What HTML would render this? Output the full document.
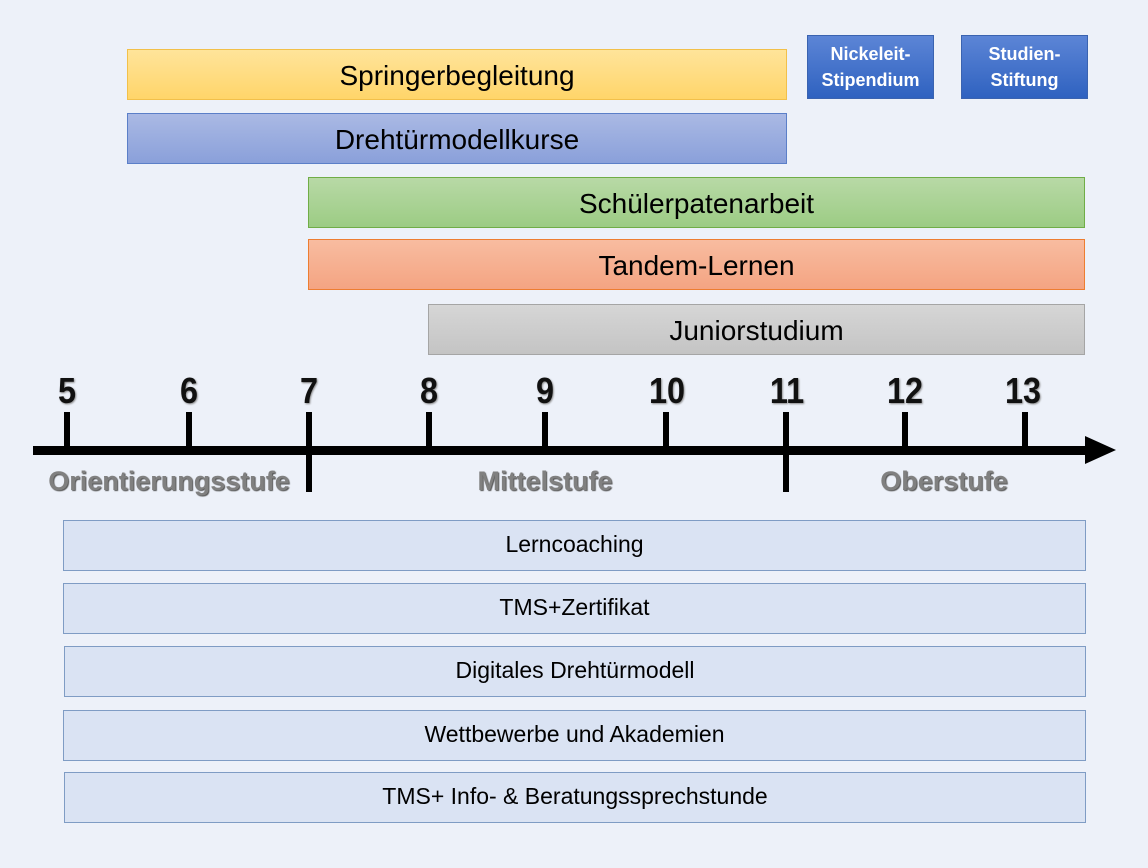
<!DOCTYPE html>
<html><head><meta charset="utf-8"><style>
body{margin:0;width:1148px;height:868px;background:#edf1f9;position:relative;overflow:hidden;font-family:"Liberation Sans",sans-serif}
.b{position:absolute;box-sizing:border-box;display:flex;align-items:center;justify-content:center;color:#000;text-align:center}
.top{font-size:28px;padding-top:2px}
.bot{font-size:23px;background:#dae3f3;border:1px solid #7f9cc4;padding-bottom:3px}
.n{position:absolute;font-weight:bold;font-size:36px;font-family:"Liberation Sans Narrow","Liberation Sans",sans-serif;transform:translateX(-50%) scaleX(0.9);top:370px;color:#111;text-shadow:1px 1px 2px #888}
.t{position:absolute;width:6px;background:#000}
.s{position:absolute;top:466px;font-weight:bold;font-size:27px;color:#808080;font-family:"Liberation Sans Narrow","Liberation Sans",sans-serif;transform:translateX(-50%);text-shadow:1px 1px 1px #555;white-space:nowrap}
.blue{background:linear-gradient(#5c85d6,#2f62c0);color:#fff;font-weight:bold;font-size:18px;line-height:26px;border:1px solid #3a63b0}
</style></head><body>
<div class="b top" style="left:127px;top:49px;width:660px;height:51px;background:linear-gradient(#ffe49a,#ffd56a);border:1px solid #f2c04a">Springerbegleitung</div>
<div class="b top" style="left:127px;top:113px;width:660px;height:51px;background:linear-gradient(#aab9e4,#8aa0da);border:1px solid #5b7fc8">Drehtürmodellkurse</div>
<div class="b top" style="left:308px;top:177px;width:777px;height:51px;background:linear-gradient(#b8d9a6,#9ccc84);border:1px solid #70ad47">Schülerpatenarbeit</div>
<div class="b top" style="left:308px;top:239px;width:777px;height:51px;background:linear-gradient(#f8bca0,#f4a482);border:1px solid #ed7d31">Tandem-Lernen</div>
<div class="b top" style="left:428px;top:304px;width:657px;height:51px;background:linear-gradient(#d6d6d6,#c4c4c4);border:1px solid #a5a5a5">Juniorstudium</div>
<div class="b blue" style="left:807px;top:35px;width:127px;height:64px">Nickeleit-<br>Stipendium</div>
<div class="b blue" style="left:961px;top:35px;width:127px;height:64px">Studien-<br>Stiftung</div>

<div style="position:absolute;left:33px;top:446px;width:1062px;height:9px;background:#000"></div>
<div style="position:absolute;left:1085px;top:436px;width:0;height:0;border-left:31px solid #000;border-top:14px solid transparent;border-bottom:14px solid transparent"></div>
<div class="t" style="left:64px;top:412px;height:36px"></div>
<div class="t" style="left:186px;top:412px;height:36px"></div>
<div class="t" style="left:306px;top:412px;height:80px"></div>
<div class="t" style="left:426px;top:412px;height:36px"></div>
<div class="t" style="left:542px;top:412px;height:36px"></div>
<div class="t" style="left:663px;top:412px;height:36px"></div>
<div class="t" style="left:783px;top:412px;height:80px"></div>
<div class="t" style="left:902px;top:412px;height:36px"></div>
<div class="t" style="left:1022px;top:412px;height:36px"></div>
<div class="n" style="left:67px">5</div>
<div class="n" style="left:189px">6</div>
<div class="n" style="left:309px">7</div>
<div class="n" style="left:429px">8</div>
<div class="n" style="left:545px">9</div>
<div class="n" style="left:667px">10</div>
<div class="n" style="left:787px">11</div>
<div class="n" style="left:905px">12</div>
<div class="n" style="left:1023px">13</div>
<div class="s" style="left:169px">Orientierungsstufe</div>
<div class="s" style="left:545px">Mittelstufe</div>
<div class="s" style="left:944px">Oberstufe</div>

<div class="b bot" style="left:63px;top:520px;width:1023px;height:51px">Lerncoaching</div>
<div class="b bot" style="left:63px;top:583px;width:1023px;height:51px">TMS+Zertifikat</div>
<div class="b bot" style="left:64px;top:646px;width:1022px;height:51px">Digitales Drehtürmodell</div>
<div class="b bot" style="left:63px;top:710px;width:1023px;height:51px">Wettbewerbe und Akademien</div>
<div class="b bot" style="left:64px;top:772px;width:1022px;height:51px">TMS+ Info- &amp; Beratungssprechstunde</div>
</body></html>
